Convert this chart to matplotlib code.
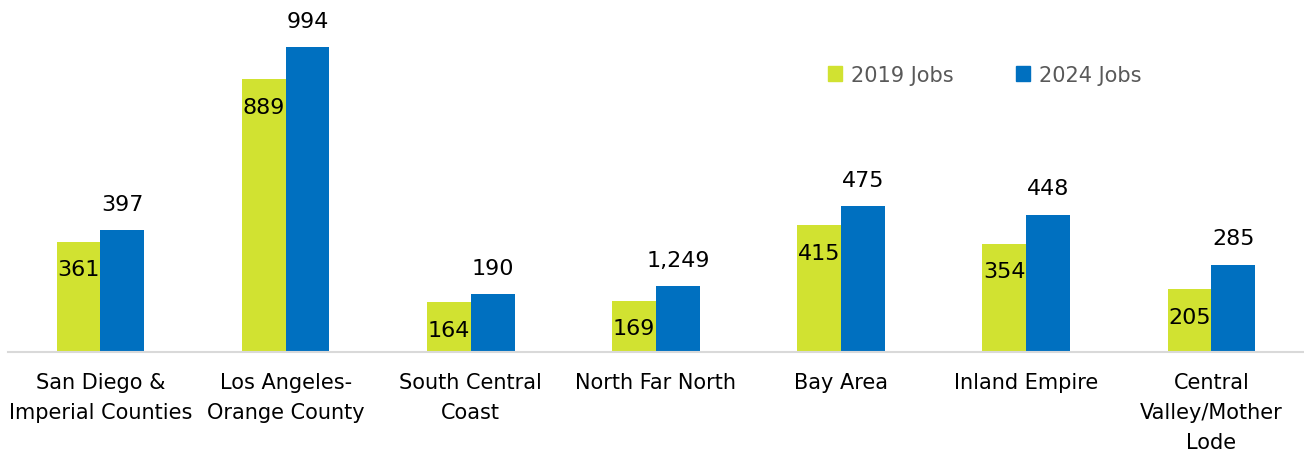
import numpy as np
import matplotlib.pyplot as plt
from matplotlib.patches import Patch

regions = ['San Diego &\nImperial Counties', 'Los Angeles-\nOrange County',
           'South Central\nCoast', 'North Far North', 'Bay Area',
           'Inland Empire', 'Central\nValley/Mother\nLode']
jobs_2019 = [361, 889, 164, 169, 415, 354, 205]
jobs_2024 = [397, 994, 190, 215, 475, 448, 285]
# labels as printed on the original chart
labels_2019 = ['361', '889', '164', '169', '415', '354', '205']
labels_2024 = ['397', '994', '190', '1,249', '475', '448', '285']

GREEN = '#D1E231'
BLUE = '#0070C0'

plt.rcParams['font.family'] = ['DejaVu Sans']

fig = plt.figure(figsize=(13.04, 4.52), dpi=100)
ax = fig.add_axes([0.006, 0.218, 0.994, 0.782])

x = np.arange(len(regions))
w = 0.237
b1 = ax.bar(x - w / 2, jobs_2019, w, color=GREEN)
b2 = ax.bar(x + w / 2, jobs_2024, w, color=BLUE)

for rect, lab in zip(b1, labels_2019):
    ax.annotate(lab, (rect.get_x() + rect.get_width() / 2, rect.get_height()),
                xytext=(0, -20), textcoords='offset points',
                ha='center', va='center', fontsize=16, color='black')
for rect, lab in zip(b2, labels_2024):
    ax.annotate(lab, (rect.get_x() + rect.get_width() / 2, rect.get_height()),
                xytext=(0, 19), textcoords='offset points',
                ha='center', va='center', fontsize=16, color='black')

ax.set_xlim(-0.5, 6.5)
ax.set_ylim(0, 1150)
ax.set_xticks(x)
ax.set_xticklabels(regions, fontsize=15, linespacing=1.62, va='top')
ax.tick_params(axis='x', length=0, pad=14)
ax.set_yticks([])
for s in ['top', 'right', 'left']:
    ax.spines[s].set_visible(False)
ax.spines['bottom'].set_color('#D9D9D9')
ax.spines['bottom'].set_linewidth(1.5)

handles = [Patch(color=GREEN, label='2019 Jobs'), Patch(color=BLUE, label='2024 Jobs')]
leg = fig.legend(handles=handles, loc='center', bbox_to_anchor=(0.755, 0.832),
                 ncol=2, frameon=False, fontsize=15, handlelength=0.7,
                 handleheight=0.7, handletextpad=0.4, columnspacing=3.0)
for t in leg.get_texts():
    t.set_color('#595959')

fig.savefig('out.png', dpi=100)
